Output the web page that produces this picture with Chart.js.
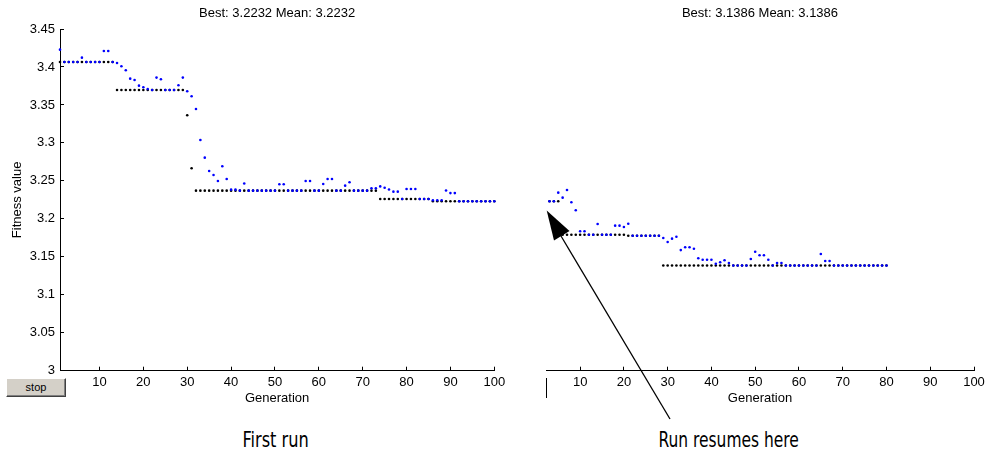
<!DOCTYPE html>
<html>
<head>
<meta charset="utf-8">
<title>GA fitness - first run and resumed run</title>
<script src="https://cdn.jsdelivr.net/npm/chart.js"></script>
<style>
  body { margin: 0; background: #fff; width: 990px; height: 455px; position: relative; overflow: hidden; font-family: "Liberation Sans", Arial, sans-serif; }
  canvas { position: absolute; top: 0; }
  #firstChart { left: 0; }
  #secondChart { left: 515px; }
  #stop { position: absolute; left: 6px; top: 378px; width: 58px; height: 17px; background: #d4d0c8; border: 1px solid; border-color: #fff #404040 #404040 #fff; box-shadow: inset -1px -1px 0 #808080; font-size: 11px; line-height: 17px; text-align: center; color: #000; }
  #stub { position: absolute; left: 546px; top: 378px; width: 1px; height: 20px; background: #000; }
  .note { position: absolute; top: 428px; font-family: "Liberation Sans Narrow", "DejaVu Sans Condensed", "DejaVu Sans", sans-serif; font-stretch: condensed; font-size: 21px; line-height: 24px; white-space: nowrap; transform-origin: center; color: #000; }
  svg { position: absolute; left: 0; top: 0; }
</style>
</head>
<body>
<canvas id="firstChart" width="515" height="420"></canvas>
<canvas id="secondChart" width="480" height="420"></canvas>
<div id="stop">stop</div>
<div id="stub"></div>
<span class="note" id="firstNote">First run</span>
<span class="note" id="resumeNote">Run resumes here</span>
<svg width="990" height="455">
  <line x1="670" y1="419" x2="561" y2="236" stroke="#000" stroke-width="1.3" />
  <polygon points="546.7,210.5 554,240.5 569.5,231" fill="#000" />
</svg>
<script>
// first run, generations 1..100
const run1Start = 1;
const run1Best = [
  3.4066, 3.4066, 3.4066, 3.4066, 3.4066, 3.4066, 3.4066, 3.4066, 3.4066, 3.4066,
  3.4066, 3.4066, 3.4066, 3.3697, 3.3697, 3.3697, 3.3697, 3.3697, 3.3697, 3.3697,
  3.3697, 3.3697, 3.3697, 3.3697, 3.3697, 3.3697, 3.3697, 3.3697, 3.3697, 3.3364,
  3.2666, 3.2371, 3.2371, 3.2371, 3.2371, 3.2371, 3.2371, 3.2371, 3.2371, 3.2371,
  3.2371, 3.2371, 3.2371, 3.2371, 3.2371, 3.2371, 3.2371, 3.2371, 3.2371, 3.2371,
  3.2371, 3.2371, 3.2371, 3.2371, 3.2371, 3.2371, 3.2371, 3.2371, 3.2371, 3.2371,
  3.2371, 3.2371, 3.2371, 3.2371, 3.2371, 3.2371, 3.2371, 3.2371, 3.2371, 3.2371,
  3.2371, 3.2371, 3.2371, 3.2262, 3.2262, 3.2262, 3.2262, 3.2262, 3.2262, 3.2262,
  3.2262, 3.2262, 3.2262, 3.2262, 3.2262, 3.2232, 3.2232, 3.2232, 3.2232, 3.2232,
  3.2232, 3.2232, 3.2232, 3.2232, 3.2232, 3.2232, 3.2232, 3.2232, 3.2232, 3.2232
];
const run1Mean = [
  3.4228, 3.4066, 3.4066, 3.4066, 3.4066, 3.4123, 3.4066, 3.4066, 3.4066, 3.4066,
  3.4211, 3.4211, 3.4066, 3.4053, 3.401, 3.3957, 3.3846, 3.3829, 3.3754, 3.3733,
  3.371, 3.3697, 3.386, 3.3838, 3.3697, 3.3697, 3.3697, 3.3759, 3.386, 3.368,
  3.3614, 3.3447, 3.3039, 3.2806, 3.263, 3.2578, 3.2499, 3.2692, 3.2525, 3.2384,
  3.2384, 3.2371, 3.2466, 3.2371, 3.2371, 3.2371, 3.2371, 3.2371, 3.2371, 3.2371,
  3.2455, 3.2455, 3.2371, 3.2371, 3.2371, 3.2371, 3.2499, 3.2499, 3.2371, 3.2371,
  3.2459, 3.2525, 3.2525, 3.2371, 3.2371, 3.2437, 3.2481, 3.2371, 3.2371, 3.2371,
  3.2371, 3.2403, 3.2403, 3.2427, 3.241, 3.2386, 3.2358, 3.2358, 3.2262, 3.2393,
  3.2393, 3.2393, 3.2262, 3.2262, 3.2262, 3.2245, 3.2245, 3.2245, 3.2374, 3.2339,
  3.2339, 3.2232, 3.2232, 3.2232, 3.2232, 3.2232, 3.2232, 3.2232, 3.2232, 3.2232
];

// resumed run, generations 3..80
const run2Start = 3;
const run2Best = [
  3.2232, 3.2232, 3.2232, 3.1791, 3.1791, 3.1791, 3.1791, 3.1791, 3.1791, 3.1791,
  3.1791, 3.1791, 3.1791, 3.1791, 3.1791, 3.1791, 3.1791, 3.1791, 3.1778, 3.1778,
  3.1778, 3.1778, 3.1778, 3.1778, 3.1778, 3.1778, 3.1386, 3.1386, 3.1386, 3.1386,
  3.1386, 3.1386, 3.1386, 3.1386, 3.1386, 3.1386, 3.1386, 3.1386, 3.1386, 3.1386,
  3.1386, 3.1386, 3.1386, 3.1386, 3.1386, 3.1386, 3.1386, 3.1386, 3.1386, 3.1386,
  3.1386, 3.1386, 3.1386, 3.1386, 3.1386, 3.1386, 3.1386, 3.1386, 3.1386, 3.1386,
  3.1386, 3.1386, 3.1386, 3.1386, 3.1386, 3.1386, 3.1386, 3.1386, 3.1386, 3.1386,
  3.1386, 3.1386, 3.1386, 3.1386, 3.1386, 3.1386, 3.1386, 3.1386
];
const run2Mean = [
  3.2232, 3.2232, 3.2345, 3.2279, 3.238, 3.2218, 3.2113, 3.1836, 3.1836, 3.1791,
  3.1791, 3.1932, 3.1791, 3.1791, 3.1791, 3.191, 3.191, 3.1893, 3.1936, 3.1778,
  3.1778, 3.1778, 3.1778, 3.1778, 3.1778, 3.1778, 3.1748, 3.1695, 3.1739, 3.1765,
  3.1588, 3.1625, 3.1625, 3.1607, 3.148, 3.1462, 3.1462, 3.1462, 3.1409, 3.1428,
  3.1454, 3.1419, 3.1386, 3.1386, 3.1386, 3.1386, 3.1471, 3.1567, 3.152, 3.152,
  3.1462, 3.1386, 3.1419, 3.1419, 3.1386, 3.1386, 3.1386, 3.1386, 3.1386, 3.1386,
  3.1386, 3.1386, 3.1537, 3.1445, 3.1445, 3.1386, 3.1386, 3.1386, 3.1386, 3.1386,
  3.1386, 3.1386, 3.1386, 3.1386, 3.1386, 3.1386, 3.1386, 3.1386
];

const xTicks = [10, 20, 30, 40, 50, 60, 70, 80, 90, 100];
const yTicks = [3, 3.05, 3.1, 3.15, 3.2, 3.25, 3.3, 3.35, 3.4, 3.45];
const yTickLabels = ["3", "3.05", "3.1", "3.15", "3.2", "3.25", "3.3", "3.35", "3.4", "3.45"];

const axisFont = { family: "'Liberation Sans', Arial, sans-serif", size: 13, lineHeight: 1.2 };

const toPoints = (start, values) => values.map((v, i) => ({ x: start + i, y: v }));

function makeChart(id, opts) {
  return new Chart(document.getElementById(id), {
    type: "scatter",
    data: {
      datasets: [
        {
          label: "Mean fitness",
          data: toPoints(opts.start, opts.mean),
          backgroundColor: "#0000ff",
          pointRadius: 1.3,
          pointHoverRadius: 1.3,
          borderWidth: 0,
          clip: false,
        },
        {
          label: "Best fitness",
          data: toPoints(opts.start, opts.best),
          backgroundColor: "#000000",
          pointRadius: 1.3,
          pointHoverRadius: 1.3,
          borderWidth: 0,
          clip: false,
        },
      ],
    },
    options: {
      responsive: false,
      animation: false,
      layout: { padding: opts.padding },
      plugins: {
        legend: { display: false },
        tooltip: { enabled: false },
        title: {
          display: true,
          text: opts.title,
          fullSize: false,
          color: "#000",
          font: { family: axisFont.family, size: 13, weight: "normal", lineHeight: 1.2 },
          padding: { top: 6, bottom: 7.4 },
        },
      },
      scales: {
        x: {
          type: "linear",
          min: opts.xMin,
          max: 100,
          afterBuildTicks: (s) => { s.ticks = xTicks.map((v) => ({ value: v })); },
          afterFit: (s) => { s.height = 49.3; },
          ticks: { color: "#000", font: axisFont, padding: 8, maxRotation: 0, autoSkip: false },
          grid: { drawOnChartArea: false, tickLength: -4, color: "#000" },
          border: { color: "#000" },
          title: { display: true, text: "Generation", color: "#000", font: axisFont, padding: { top: 0, bottom: 14.2 } },
        },
        y: {
          type: "linear",
          display: opts.showY,
          min: 3,
          max: 3.45,
          afterBuildTicks: (s) => { s.ticks = yTicks.map((v) => ({ value: v })); },
          // hidden axis of the resumed run must take no room
          afterFit: (s) => { s.width = opts.showY ? 60 : 0; },
          ticks: {
            color: "#000",
            font: axisFont,
            padding: 9,
            callback: (v) => yTickLabels[yTicks.indexOf(v)],
          },
          grid: { drawOnChartArea: false, tickLength: -4, color: "#000" },
          border: { color: "#000" },
          title: { display: true, text: "Fitness value", color: "#000", font: axisFont, padding: { top: 9.7, bottom: 0 } },
        },
      },
    },
  });
}

makeChart("firstChart", {
  start: run1Start, best: run1Best, mean: run1Mean,
  title: "Best: 3.2232 Mean: 3.2232",
  xMin: 1, showY: true,
  padding: { left: 0, top: 0, right: 20.7, bottom: 0 },
});

makeChart("secondChart", {
  start: run2Start, best: run2Best, mean: run2Mean,
  title: "Best: 3.1386 Mean: 3.1386",
  xMin: 2.2, showY: false,
  padding: { left: 31, top: 0, right: 21, bottom: 0 },
});

// squeeze the two captions to the width they have in the figure
function placeNote(id, centerX, width) {
  const el = document.getElementById(id);
  const w = el.offsetWidth;
  el.style.left = (centerX - w / 2) + "px";
  el.style.transform = "scaleX(" + (width / w) + ")";
}
placeNote("firstNote", 275, 66);
placeNote("resumeNote", 728, 140);
</script>
</body>
</html>
